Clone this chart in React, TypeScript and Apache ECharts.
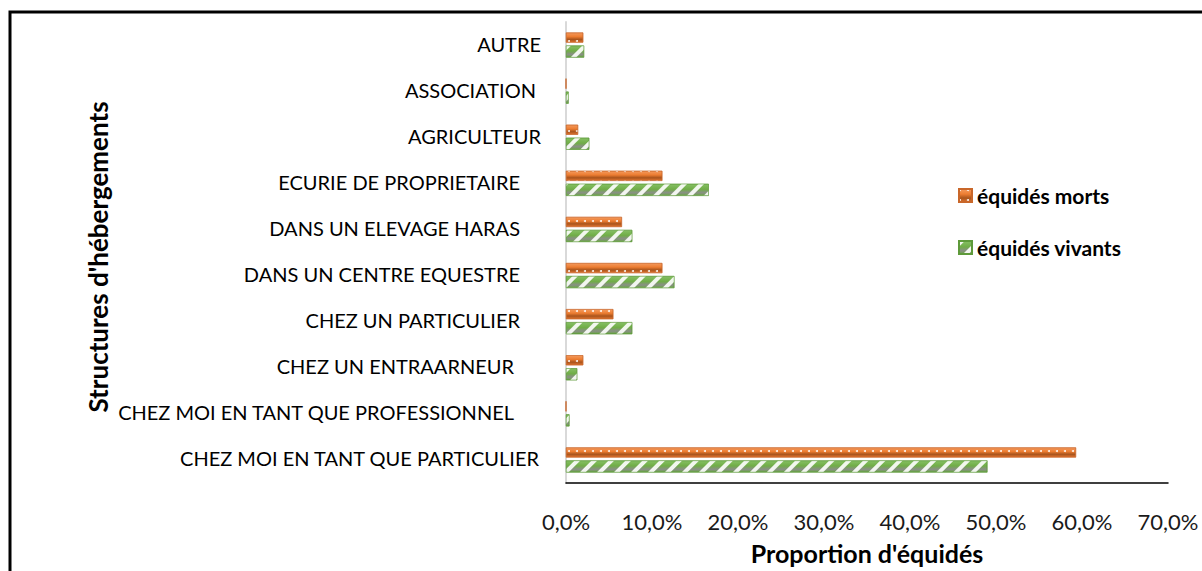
import React, { useEffect, useRef } from "react";
import * as echarts from "echarts";

const categories = [
  "CHEZ MOI EN TANT QUE PARTICULIER",
  "CHEZ MOI EN TANT QUE PROFESSIONNEL",
  "CHEZ UN ENTRAARNEUR",
  "CHEZ UN PARTICULIER",
  "DANS UN CENTRE EQUESTRE",
  "DANS UN ELEVAGE HARAS",
  "ECURIE DE PROPRIETAIRE",
  "AGRICULTEUR",
  "ASSOCIATION",
  "AUTRE",
];
const morts = [59.3, 0, 2.0, 5.5, 11.2, 6.5, 11.2, 1.4, 0, 2.0];
const vivants = [49.0, 0.4, 1.3, 7.7, 12.6, 7.7, 16.6, 2.7, 0.3, 2.1];
const seriesNames = ["équidés morts", "équidés vivants"];
const xTicks = { min: 0, max: 70, interval: 10 };
const xTitle = "Proportion d'équidés";
const yTitle = "Structures d'hébergements";

const FONT = "Lato, 'Liberation Sans', sans-serif";

export default function App() {
  const ref = useRef<HTMLDivElement>(null);
  useEffect(() => {
    document.body.style.margin = "0";
    if (!ref.current) return;
    const chart = echarts.init(ref.current, undefined, { renderer: "svg" });
    // extra right padding per category label (trailing-space look of the original)
    const labelPads = [2, 27, 27, 21, 21, 21, 21, 0, 5, 0];
    const rich: Record<string, any> = {};
    labelPads.forEach((p, i) => {
      rich["r" + i] = { fontSize: 20, fontFamily: FONT, color: "#000", padding: [0, p, 3, 0] };
    });
    const orangeFill = new echarts.graphic.LinearGradient(0, 0, 0, 1, [
      { offset: 0, color: "#F39A5E" },
      { offset: 0.4, color: "#ED7D31" },
      { offset: 0.7, color: "#A9541C" },
      { offset: 1, color: "#E07430" },
    ]);
    const greenFill = new echarts.graphic.LinearGradient(0, 0, 0, 1, [
      { offset: 0, color: "#86C064" },
      { offset: 0.45, color: "#70AD47" },
      { offset: 0.75, color: "#8A8F86" },
      { offset: 1, color: "#6AA745" },
    ]);
    chart.setOption({
      animation: false,
      textStyle: { fontFamily: FONT },
      grid: { left: 566, right: 34, top: 22, bottom: 88, containLabel: false },
      legend: {
        orient: "vertical",
        left: 953,
        top: 180,
        itemWidth: 13,
        itemHeight: 13,
        itemGap: 31,
        icon: "rect",
        data: seriesNames,
        textStyle: { fontFamily: FONT, fontWeight: "bold", fontSize: 21, color: "#000" },
      },
      xAxis: {
        type: "value",
        min: xTicks.min,
        max: xTicks.max,
        interval: xTicks.interval,
        splitLine: { show: false },
        axisLine: { show: true, lineStyle: { color: "#000", width: 1.5 } },
        axisTick: { show: false },
        axisLabel: {
          fontSize: 22,
          color: "#1a1a1a",
          margin: 27,
          formatter: (v: number) => v.toFixed(1).replace(".", ",") + "%",
        },
        name: xTitle,
        nameLocation: "middle",
        nameGap: 57,
        nameTextStyle: { fontSize: 25, fontWeight: "bold", color: "#000", fontFamily: FONT },
      },
      yAxis: {
        type: "category",
        data: categories,
        axisLine: { show: true, lineStyle: { color: "#D9D9D9", width: 2 } },
        axisTick: { show: false },
        axisLabel: {
          fontSize: 20,
          color: "#000",
          margin: 25,
          formatter: (v: string, i: number) => `{r${i}|${v}}`,
          rich,
        },
      },
      graphic: [
        {
          type: "rect",
          shape: { x: 10, y: 12, width: 1400, height: 800 },
          style: { fill: "none", stroke: "#000", lineWidth: 3 },
          silent: true,
        },
        {
          type: "text",
          x: 98,
          y: 257,
          rotation: Math.PI / 2,
          style: {
            text: yTitle,
            fontSize: 26,
            fontWeight: "bold",
            fontFamily: FONT,
            fill: "#000",
            align: "center",
            verticalAlign: "middle",
          },
        },
      ],
      series: [
        {
          name: seriesNames[0],
          type: "bar",
          data: morts,
          barWidth: 10,
          barGap: "30%",
          itemStyle: {
            color: orangeFill,
            borderColor: "#C9672A",
            borderWidth: 0.5,
            decal: {
              symbol: "circle",
              symbolSize: 1,
              dashArrayX: [[2, 6]],
              dashArrayY: [2, 8],
              color: "rgba(255,255,255,0.9)",
            },
          },
        },
        {
          name: seriesNames[1],
          type: "bar",
          data: vivants,
          barWidth: 12,
          itemStyle: {
            color: greenFill,
            borderColor: "#5E9A3A",
            borderWidth: 0.5,
            decal: {
              symbol: "rect",
              symbolSize: 1,
              rotation: -Math.PI / 4,
              dashArrayX: [[1, 0]],
              dashArrayY: [4, 8],
              color: "rgba(255,255,255,0.9)",
            },
          },
        },
      ],
    });
    return () => chart.dispose();
  }, []);
  return <div ref={ref} style={{ width: 1202, height: 571 }} />;
}
